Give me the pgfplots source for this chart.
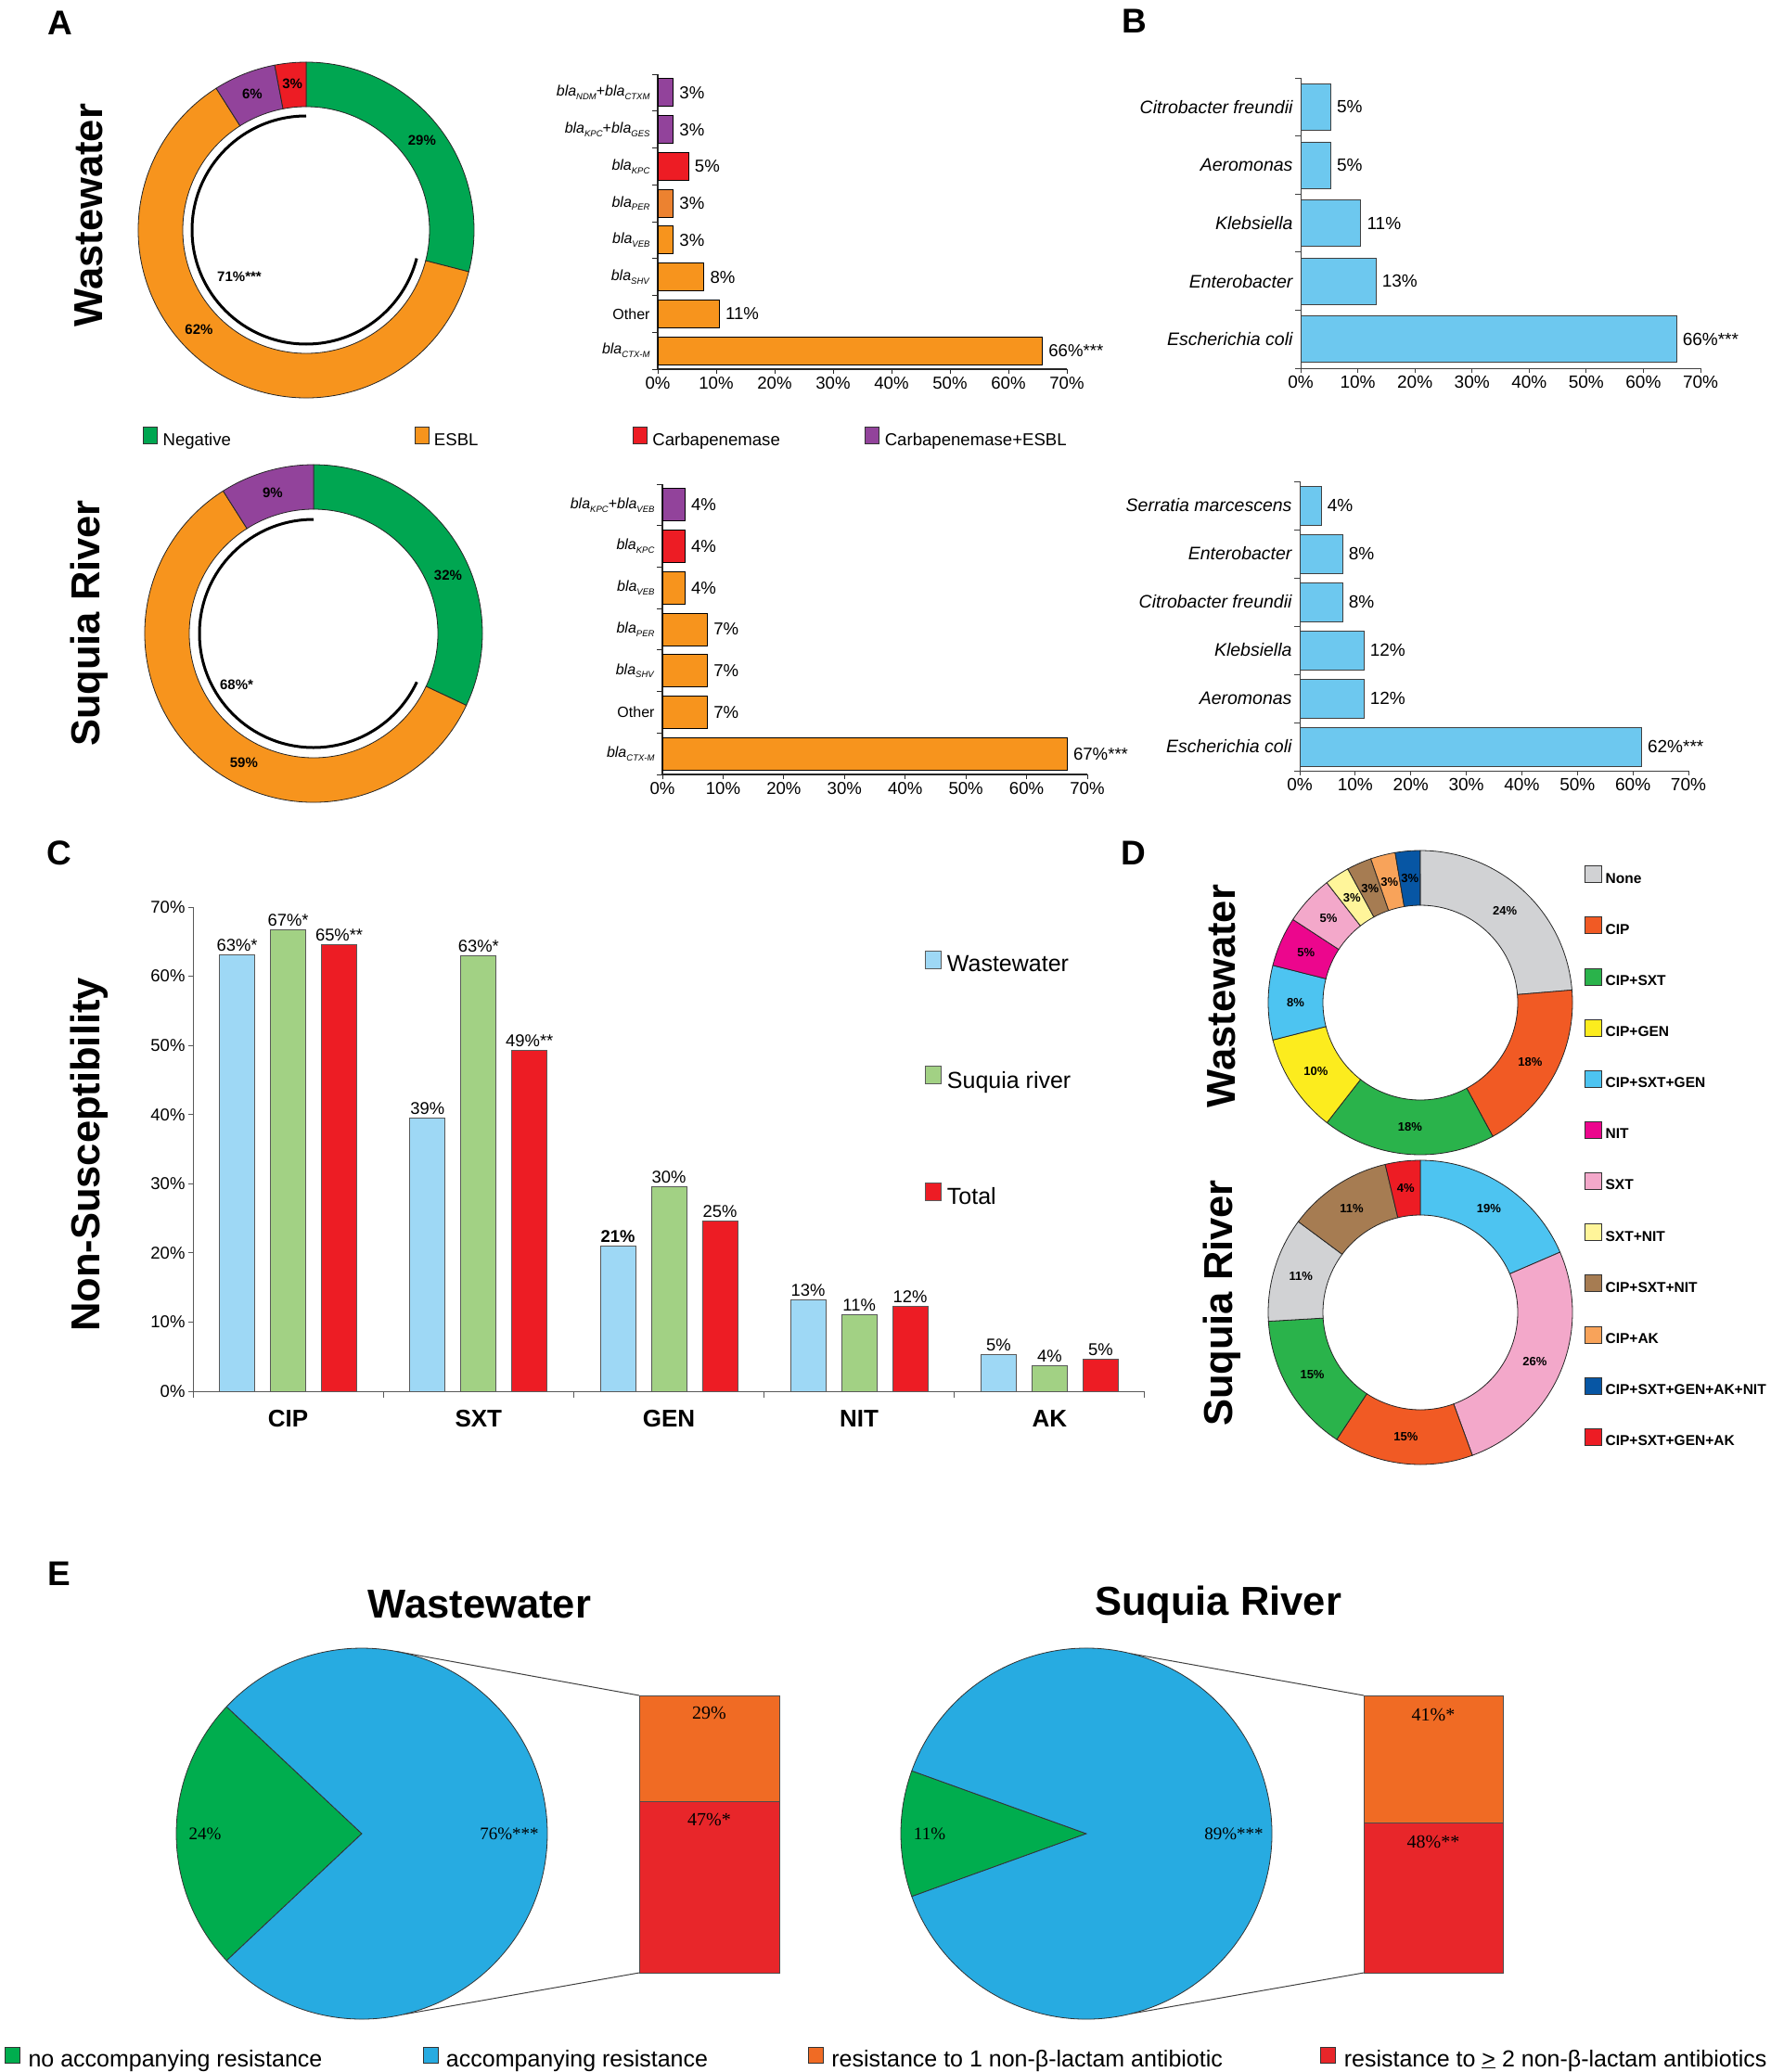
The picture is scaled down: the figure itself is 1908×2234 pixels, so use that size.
\documentclass[border=0pt]{standalone}
\usepackage{fontspec}
\setmainfont{Liberation Sans}
\newfontfamily\serifE{Liberation Serif}
\usepackage{pgfplots}
\pgfplotsset{compat=1.18}

% panel A / B
\definecolor{neg}{HTML}{00A651}
\definecolor{esbl}{HTML}{F7941D}
\definecolor{esblper}{HTML}{EC8230}
\definecolor{carb}{HTML}{ED1C24}
\definecolor{cpesbl}{HTML}{92439B}
\definecolor{spec}{HTML}{6DC8EF}
% panel C
\definecolor{cww}{HTML}{9ED8F5}
\definecolor{csr}{HTML}{A2D184}
\definecolor{ctot}{HTML}{ED1C24}
% panel D
\definecolor{dnone}{HTML}{D1D2D4}
\definecolor{dcip}{HTML}{F15A24}
\definecolor{dcipsxt}{HTML}{2AB34B}
\definecolor{dcipgen}{HTML}{FCEC1E}
\definecolor{dcsg}{HTML}{4DC4F1}
\definecolor{dnit}{HTML}{EC068D}
\definecolor{dsxt}{HTML}{F3A8CA}
\definecolor{dsxtnit}{HTML}{FFF59A}
\definecolor{dcsn}{HTML}{A67C52}
\definecolor{dcipak}{HTML}{F8A35A}
\definecolor{dall}{HTML}{0756A4}
\definecolor{dcsga}{HTML}{ED1C24}
% panel E
\definecolor{egreen}{HTML}{00AD4E}
\definecolor{eblue}{HTML}{27ABE1}
\definecolor{eorange}{HTML}{F06B24}
\definecolor{ered}{HTML}{E8262A}

\newcommand\fs[1]{\fontsize{#1}{#1}\selectfont}
\newcommand\bla[1]{\textit{bla}\raisebox{-0.45ex}{\fs{9.5}\textit{#1}}}

% ring of sectors, clockwise from 12 o'clock
% #1 outer r, #2 inner r, #3 label r, #4 label font, #5 value/colour/label/label angle shift
\newcommand\donut[5]{%
  \xdef\cura{90}%
  \foreach \v/\c/\l/\s in {#5}{%
    \pgfmathsetmacro\endA{\cura-3.6*\v}%
    \fill[\c, draw=black!85, line width=0.8pt]
      ([shift={(\cura:#1pt)}]axis cs:0,0) arc[start angle=\cura, end angle=\endA, radius=#1pt]
      -- ([shift={(\endA:#2pt)}]axis cs:0,0) arc[start angle=\endA, end angle=\cura, radius=#2pt] -- cycle;
    \pgfmathsetmacro\mida{(\cura+\endA)/2+\s}%
    \node[font=#4] at ([shift={(\mida:#3pt)}]axis cs:0,0) {\l};
    \xdef\cura{\endA}%
  }%
}
% full pie, clockwise from angle #2
\newcommand\pie[3]{%
  \pgfmathsetmacro\cura{#2}\xdef\cura{\cura}%
  \foreach \v/\c in {#3}{%
    \pgfmathsetmacro\endA{\cura-3.6*\v}%
    \fill[\c, draw=black!80, line width=0.8pt] (axis cs:0,0)
      -- ([shift={(\cura:#1pt)}]axis cs:0,0) arc[start angle=\cura, end angle=\endA, radius=#1pt] -- cycle;
    \xdef\cura{\endA}%
  }%
}

\pgfplotsset{
  ring/.style={x=1pt, y=1pt, hide axis, clip=false, anchor=center},
  hbar/.style={
    xbar, bar shift=0pt, scale only axis, clip=false,
    xmin=0, xmax=70, y dir=reverse,
    axis x line*=bottom, axis y line*=left,
    axis line style={black!85, line width=1.1pt},
    tick align=outside, major tick length=5pt, minor tick length=6pt,
    tick style={black!85, line width=1pt},
    major y tick style={draw=none},
    xtick={0,10,...,70},
    xticklabels={0\%,10\%,20\%,30\%,40\%,50\%,60\%,70\%},
    xticklabel style={font=\fs{18.6}},
    point meta=explicit symbolic,
    nodes near coords,
    every node near coord/.append style={anchor=west, xshift=3pt, font=\fs{18.6}},
  },
  sqleg/.style={
    legend cell align=left,
    legend style={draw=none, fill=none, inner sep=0pt, nodes={inner sep=0pt}},
  },
  boxcol/.style={scale only axis, height=299pt, xmin=0, xmax=1, ymin=0,
    hide axis, clip=false, ybar stacked, point meta=explicit symbolic, nodes near coords,
    every node near coord/.append style={anchor=center, font=\serifE\fs{20}}},
}

\begin{document}
\begin{tikzpicture}
\path[use as bounding box] (0pt,0pt) rectangle (1908pt,-2234pt);

% panel letters and side titles
\node[font=\bfseries\fs{37}] at (65pt,-25pt) {A};
\node[font=\bfseries\fs{37}] at (1223pt,-23pt) {B};
\node[font=\bfseries\fs{37}] at (64pt,-920pt) {C};
\node[font=\bfseries\fs{37}] at (1222pt,-920pt) {D};
\node[font=\bfseries\fs{37}] at (64pt,-1697pt) {E};
\node[rotate=90, font=\bfseries\fs{43.5}] at (96pt,-232pt) {Wastewater};
\node[rotate=90, font=\bfseries\fs{43.5}] at (96pt,-672pt) {Suquia River};
\node[rotate=90, font=\bfseries\fs{43.5}] at (1317pt,-1074pt) {Wastewater};
\node[rotate=90, font=\bfseries\fs{43.5}] at (1317pt,-1405pt) {Suquia River};

% ---------- A: wastewater ring ----------
\begin{axis}[ring, sqleg, at={(330pt,-248pt)},
  xmin=-190, xmax=190, ymin=-190, ymax=190,
  legend columns=4,
  legend style={at={(0.0368,-0.0868)}, anchor=west, font=\fs{18.6},
    /tikz/every odd column/.style={column sep=6pt}},
  legend image code/.code={\draw[#1] (0pt,-3pt) rectangle (15pt,15pt);}]
\addlegendimage{fill=neg, draw=black!80}
\addlegendentry{\makebox[271pt][l]{Negative}}
\addlegendimage{fill=esbl, draw=black!80}
\addlegendentry{\makebox[214pt][l]{ESBL}}
\addlegendimage{fill=carb, draw=black!80}
\addlegendentry{\makebox[229pt][l]{Carbapenemase}}
\addlegendimage{fill=cpesbl, draw=black!80}
\addlegendentry{Carbapenemase+ESBL}
\pgfplotsextra{%
  \donut{181}{133}{158}{\bfseries\fs{15}}{29/neg/29\%/0, 62/esbl/62\%/-11, 6/cpesbl/6\%/0, 3/carb/3\%/0}
  \draw[line width=3pt] ([shift={(90:123pt)}]axis cs:0,0) arc[start angle=90, end angle={90+3.6*71}, radius=123pt];
  \node[font=\bfseries\fs{15}] at (axis cs:-72,-50) {71\%***};
}
\end{axis}

% ---------- A: Suquia ring ----------
\begin{axis}[ring, at={(338pt,-683pt)}, xmin=-190, xmax=190, ymin=-190, ymax=190]
\pgfplotsextra{%
  \donut{182}{134}{158}{\bfseries\fs{15}}{32/neg/32\%/-9, 59/esbl/59\%/13, 9/cpesbl/9\%/0}
  \draw[line width=3pt] ([shift={(90:123pt)}]axis cs:0,0) arc[start angle=90, end angle={90+3.6*68}, radius=123pt];
  \node[font=\bfseries\fs{15}] at (axis cs:-83,-55) {68\%*};
}
\end{axis}

% ---------- A: genes, wastewater ----------
\begin{axis}[hbar, at={(709pt,-398pt)}, anchor=south west, width=441pt, height=318pt,
  ymin=0.5, ymax=8.5, bar width=30pt,
  ytick={1,...,8}, minor ytick={0.5,1.5,...,8.5},
  yticklabels={{\bla{NDM}+\bla{CTXM}},{\bla{KPC}+\bla{GES}},\bla{KPC},\bla{PER},\bla{VEB},\bla{SHV},Other,\bla{CTX-M}},
  yticklabel style={font=\fs{16}}]
\addplot[fill=cpesbl, draw=black, line width=1pt] coordinates {(2.63,1) [3\%] (2.63,2) [3\%]};
\addplot[fill=carb, draw=black, line width=1pt] coordinates {(5.26,3) [5\%]};
\addplot[fill=esblper, draw=black, line width=1pt] coordinates {(2.63,4) [3\%]};
\addplot[fill=esbl, draw=black, line width=1pt] coordinates {(2.63,5) [3\%] (7.89,6) [8\%] (10.53,7) [11\%] (65.79,8) [66\%***]};
\end{axis}

% ---------- A: genes, Suquia ----------
\begin{axis}[hbar, at={(714pt,-835pt)}, anchor=south west, width=458pt, height=313pt,
  ymin=0.5, ymax=7.5, bar width=35pt,
  ytick={1,...,7}, minor ytick={0.5,1.5,...,7.5},
  yticklabels={{\bla{KPC}+\bla{VEB}},\bla{KPC},\bla{VEB},\bla{PER},\bla{SHV},Other,\bla{CTX-M}},
  yticklabel style={font=\fs{16}}]
\addplot[fill=cpesbl, draw=black, line width=1pt] coordinates {(3.70,1) [4\%]};
\addplot[fill=carb, draw=black, line width=1pt] coordinates {(3.70,2) [4\%]};
\addplot[fill=esbl, draw=black, line width=1pt] coordinates {(3.70,3) [4\%] (7.41,4) [7\%] (7.41,5) [7\%] (7.41,6) [7\%] (66.67,7) [67\%***]};
\end{axis}

% ---------- B: species, wastewater ----------
\begin{axis}[hbar, at={(1402pt,-397pt)}, anchor=south west, width=431pt, height=313pt,
  ymin=0.5, ymax=5.5, bar width=50pt,
  axis line style={black!75, line width=1pt}, tick style={black!75, line width=1pt},
  ytick={1,...,5}, minor ytick={0.5,1.5,...,5.5},
  yticklabels={Citrobacter freundii,Aeromonas,Klebsiella,Enterobacter,Escherichia coli},
  yticklabel style={font=\itshape\fs{19.5}},
  xticklabel style={font=\fs{19}}, every node near coord/.append style={font=\fs{19}}]
\addplot[fill=spec, draw=black!75, line width=0.8pt] coordinates {(5.26,1) [5\%] (5.26,2) [5\%] (10.53,3) [11\%] (13.16,4) [13\%] (65.79,5) [66\%***]};
\end{axis}

% ---------- B: species, Suquia ----------
\begin{axis}[hbar, at={(1401pt,-831pt)}, anchor=south west, width=419pt, height=312pt,
  ymin=0.5, ymax=6.5, bar width=42pt,
  axis line style={black!75, line width=1pt}, tick style={black!75, line width=1pt},
  ytick={1,...,6}, minor ytick={0.5,1.5,...,6.5},
  yticklabels={Serratia marcescens,Enterobacter,Citrobacter freundii,Klebsiella,Aeromonas,Escherichia coli},
  yticklabel style={font=\itshape\fs{19.5}},
  xticklabel style={font=\fs{19}}, every node near coord/.append style={font=\fs{19}}]
\addplot[fill=spec, draw=black!75, line width=0.8pt] coordinates {(3.85,1) [4\%] (7.69,2) [8\%] (7.69,3) [8\%] (11.54,4) [12\%] (11.54,5) [12\%] (61.54,6) [62\%***]};
\end{axis}

% ---------- C: non-susceptibility ----------
\begin{axis}[sqleg, at={(208pt,-1500pt)}, anchor=south west, scale only axis,
  width=1026pt, height=522pt, clip=false,
  ybar=17pt, bar width=38pt,
  ymin=0, ymax=70, xmin=0.5, xmax=5.5,
  axis x line*=bottom, axis y line*=left,
  axis line style={black!65, line width=1pt},
  tick align=outside, major tick length=5pt, minor tick length=7pt,
  tick style={black!65, line width=1pt},
  major x tick style={draw=none},
  xtick={1,...,5}, xticklabels={CIP,SXT,GEN,NIT,AK},
  minor xtick={0.5,1.5,2.5,3.5,4.5,5.5},
  xticklabel style={font=\bfseries\fs{26}, yshift=-12pt},
  ytick={0,10,...,70},
  yticklabels={0\%,10\%,20\%,30\%,40\%,50\%,60\%,70\%},
  yticklabel style={font=\fs{18.5}},
  ylabel={Non-Susceptibility},
  ylabel style={font=\bfseries\fs{43.5}, at={(axis description cs:-0.1092,0.4885)}, anchor=center},
  point meta=explicit symbolic, nodes near coords,
  nodes near coords style={font=\fs{18.4}},
  legend style={at={(0.769,0.911)}, anchor=north west, font=\fs{25}, row sep=100pt,
    /tikz/every odd column/.style={column sep=6pt}},
  legend image code/.code={\draw[#1] (0pt,-4pt) rectangle (17pt,15pt);}]
\addplot[fill=cww, draw=black!65, line width=0.8pt] coordinates {(1,63.16) [63\%*] (2,39.47) [39\%] (3,21.05) [\textbf{21\%}] (4,13.16) [13\%] (5,5.26) [5\%]};
\addlegendentry{Wastewater}
\addplot[fill=csr, draw=black!65, line width=0.8pt] coordinates {(1,66.67) [67\%*] (2,62.96) [63\%*] (3,29.63) [30\%] (4,11.11) [11\%] (5,3.70) [4\%]};
\addlegendentry{Suquia river}
\addplot[fill=ctot, draw=black!65, line width=0.8pt] coordinates {(1,64.62) [65\%**] (2,49.23) [49\%**] (3,24.62) [25\%] (4,12.31) [12\%] (5,4.62) [5\%]};
\addlegendentry{Total}
\end{axis}

% ---------- D: resistance profiles, wastewater ----------
\begin{axis}[ring, sqleg, at={(1531pt,-1081pt)}, xmin=-170, xmax=170, ymin=-170, ymax=170,
  legend style={at={(1.0206,0.935)}, anchor=north west, font=\bfseries\fs{15.5}, row sep=34.8pt,
    /tikz/every odd column/.style={column sep=4pt}},
  legend image code/.code={\draw[#1] (0pt,-4pt) rectangle (18pt,14pt);}]
\addlegendimage{fill=dnone, draw=black!80}\addlegendentry{None}
\addlegendimage{fill=dcip, draw=black!80}\addlegendentry{CIP}
\addlegendimage{fill=dcipsxt, draw=black!80}\addlegendentry{CIP+SXT}
\addlegendimage{fill=dcipgen, draw=black!80}\addlegendentry{CIP+GEN}
\addlegendimage{fill=dcsg, draw=black!80}\addlegendentry{CIP+SXT+GEN}
\addlegendimage{fill=dnit, draw=black!80}\addlegendentry{NIT}
\addlegendimage{fill=dsxt, draw=black!80}\addlegendentry{SXT}
\addlegendimage{fill=dsxtnit, draw=black!80}\addlegendentry{SXT+NIT}
\addlegendimage{fill=dcsn, draw=black!80}\addlegendentry{CIP+SXT+NIT}
\addlegendimage{fill=dcipak, draw=black!80}\addlegendentry{CIP+AK}
\addlegendimage{fill=dall, draw=black!80}\addlegendentry{CIP+SXT+GEN+AK+NIT}
\addlegendimage{fill=dcsga, draw=black!80}\addlegendentry{CIP+SXT+GEN+AK}
\pgfplotsextra{%
  \donut{164}{105}{134.5}{\bfseries\fs{13}}{23.68/dnone/24\%/0, 18.42/dcip/18\%/0, 18.42/dcipsxt/18\%/0, 10.53/dcipgen/10\%/0, 7.89/dcsg/8\%/0, 5.26/dnit/5\%/0, 5.26/dsxt/5\%/0, 2.63/dsxtnit/3\%/0, 2.63/dcsn/3\%/0, 2.63/dcipak/3\%/0, 2.63/dall/3\%/0}
}
\end{axis}

% ---------- D: resistance profiles, Suquia ----------
\begin{axis}[ring, at={(1531pt,-1415pt)}, xmin=-170, xmax=170, ymin=-170, ymax=170]
\pgfplotsextra{%
  \donut{164}{105}{134.5}{\bfseries\fs{13}}{18.52/dcsg/19\%/0, 25.93/dsxt/26\%/0, 14.81/dcip/15\%/0, 14.81/dcipsxt/15\%/0, 11.11/dnone/11\%/0, 11.11/dcsn/11\%/0, 3.70/dcsga/4\%/0}
}
\end{axis}

% ---------- E: wastewater pie ----------
\begin{axis}[ring, sqleg, at={(390pt,-1977pt)}, xmin=-200, xmax=200, ymin=-200, ymax=200,
  legend columns=4,
  legend style={at={(-0.4625,-0.1025)}, anchor=west, font=\fs{25},
    /tikz/every odd column/.style={column sep=9pt}},
  legend image code/.code={\draw[#1] (0pt,-4pt) rectangle (16pt,13pt);}]
\addlegendimage{fill=egreen, draw=black!80}
\addlegendentry{\makebox[425pt][l]{no accompanying resistance}}
\addlegendimage{fill=eblue, draw=black!80}
\addlegendentry{\makebox[390pt][l]{accompanying resistance}}
\addlegendimage{fill=eorange, draw=black!80}
\addlegendentry{\makebox[527pt][l]{resistance to 1 non-β-lactam antibiotic}}
\addlegendimage{fill=ered, draw=black!80}
\addlegendentry{resistance to \underline{>} 2 non-β-lactam antibiotics}
\pgfplotsextra{%
  \pie{200}{180+24*1.8}{24/egreen, 76/eblue}
  \draw[black!75, line width=1pt] ([shift={(79:200pt)}]axis cs:0,0) -- (axis cs:299,149);
  \draw[black!75, line width=1pt] ([shift={(-77:200pt)}]axis cs:0,0) -- (axis cs:299,-150);
  \node[font=\serifE\fs{19}] at (axis cs:-169,0) {24\%};
  \node[font=\serifE\fs{19}] at (axis cs:159,0) {76\%***};
  \node[font=\bfseries\fs{43.5}] at (axis cs:127,247) {Wastewater};
}
\end{axis}

% ---------- E: Suquia pie ----------
\begin{axis}[ring, at={(1171pt,-1977pt)}, xmin=-200, xmax=200, ymin=-200, ymax=200]
\pgfplotsextra{%
  \pie{200}{180+11*1.8}{11/egreen, 89/eblue}
  \draw[black!75, line width=1pt] ([shift={(76:200pt)}]axis cs:0,0) -- (axis cs:299,149);
  \draw[black!75, line width=1pt] ([shift={(-76:200pt)}]axis cs:0,0) -- (axis cs:299,-150);
  \node[font=\serifE\fs{19}] at (axis cs:-169,0) {11\%};
  \node[font=\serifE\fs{19}] at (axis cs:159,0) {89\%***};
  \node[font=\bfseries\fs{43.5}] at (axis cs:142,247) {Suquia River};
}
\end{axis}

% ---------- E: bar of pie columns (labels sit near the top of each segment) ----------
\begin{axis}[boxcol, at={(689pt,-2127pt)}, anchor=south west, width=151pt, ymax=76, bar width=151pt]
\addplot[fill=ered, draw=black!70, line width=0.8pt,
  every node near coord/.append style={yshift=72.5pt}] coordinates {(0.5,47) [47\%*]};
\addplot[fill=eorange, draw=black!70, line width=0.8pt,
  every node near coord/.append style={yshift=38pt}] coordinates {(0.5,29) [29\%]};
\end{axis}
\begin{axis}[boxcol, at={(1470pt,-2127pt)}, anchor=south west, width=150pt, ymax=89, bar width=150pt]
\addplot[fill=ered, draw=black!70, line width=0.8pt,
  every node near coord/.append style={yshift=60.6pt}] coordinates {(0.5,48) [48\%**]};
\addplot[fill=eorange, draw=black!70, line width=0.8pt,
  every node near coord/.append style={yshift=47.9pt}] coordinates {(0.5,41) [41\%*]};
\end{axis}
\end{tikzpicture}
\end{document}
